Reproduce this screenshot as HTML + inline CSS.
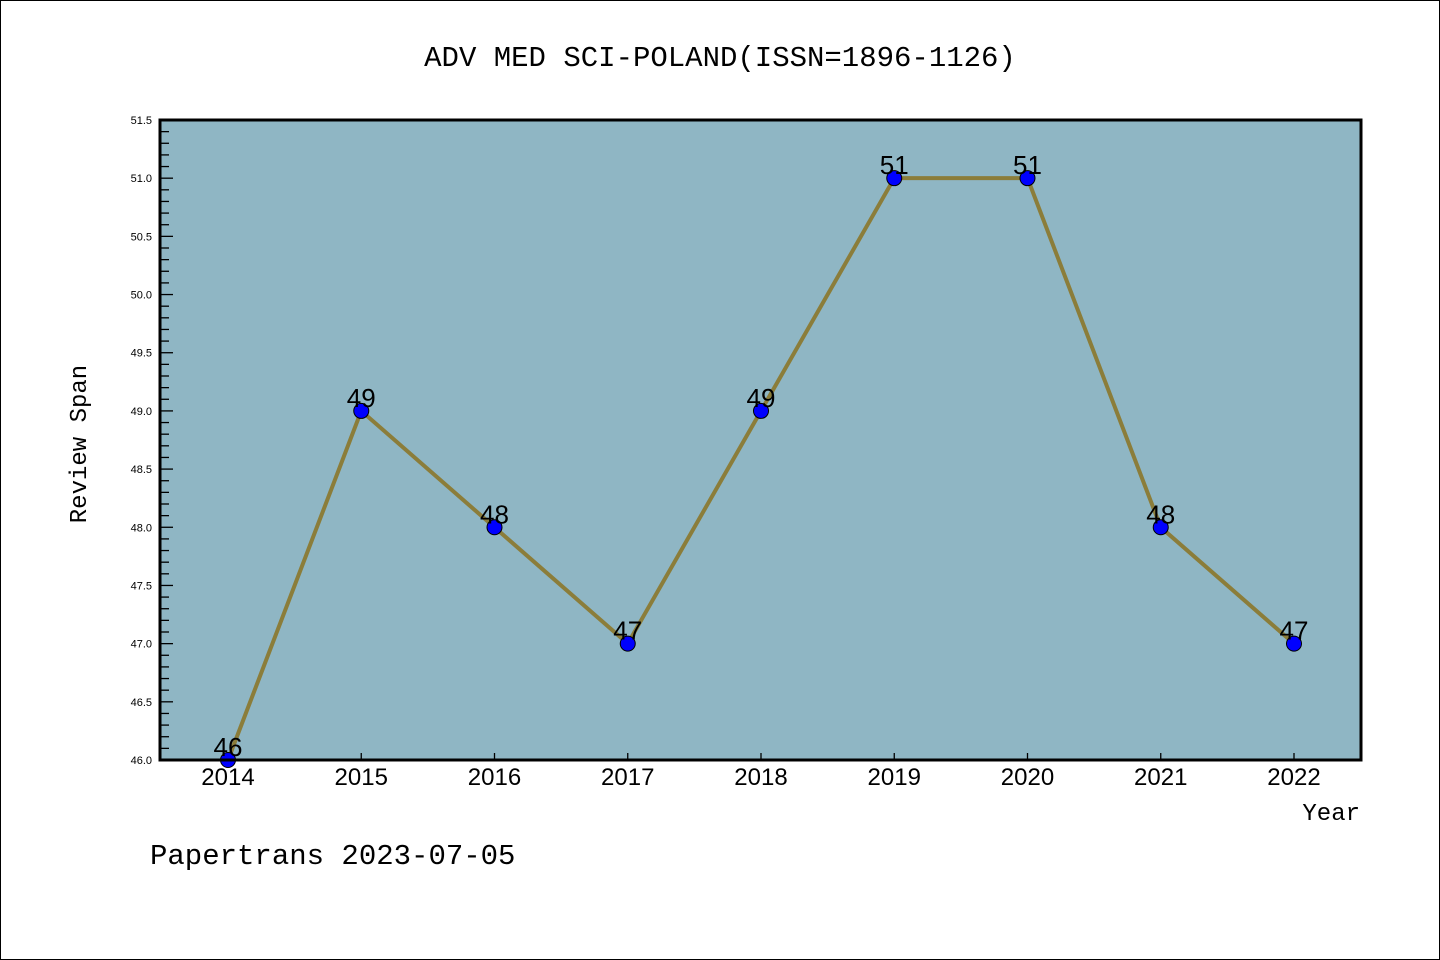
<!DOCTYPE html>
<html><head><meta charset="utf-8"><style>
body{margin:0;background:#fff;}
svg{display:block;font-family:"Liberation Sans","DejaVu Sans",sans-serif;}
.mono{font-family:"Liberation Mono","DejaVu Sans Mono",monospace;}
</style></head><body>
<svg id="chart" width="1440" height="960">
<rect x="0.5" y="0.5" width="1439" height="959" fill="#fff" stroke="#000"/>
<text x="720" y="66" text-anchor="middle" font-size="29" class="mono">ADV MED SCI-POLAND(ISSN=1896-1126)</text>
<rect x="160" y="120" width="1201" height="640" fill="#8fb6c4"/>
<g id="yaxis"></g>
<g id="xaxis"></g>
<g id="series"></g>
<rect x="160" y="120" width="1201" height="640" fill="none" stroke="#000" stroke-width="3"/>
<text x="86" y="444" text-anchor="middle" font-size="24" class="mono" transform="rotate(-90 86 444)">Review Span</text>
<text x="1360" y="820" text-anchor="end" font-size="24" class="mono">Year</text>
<text x="150" y="864" font-size="29" class="mono">Papertrans 2023-07-05</text>
</svg>
<script>
const years = ["2014","2015","2016","2017","2018","2019","2020","2021","2022"];
const values = [46,49,48,47,49,51,51,48,47];
const yTicks = ["46.0","46.5","47.0","47.5","48.0","48.5","49.0","49.5","50.0","50.5","51.0","51.5"];
const NS="http://www.w3.org/2000/svg";
const yMin=46, yMax=51.5, plotTop=120, plotBot=760, plotLeft=160;
function yS(v){return plotBot-(v-yMin)/(yMax-yMin)*(plotBot-plotTop);}
function xS(i){return 228+i*(1294-228)/(years.length-1);}
function mk(tag,attrs,parent){const e=document.createElementNS(NS,tag);for(const k in attrs)e.setAttribute(k,attrs[k]);parent.appendChild(e);return e;}
const ya=document.getElementById('yaxis'), xa=document.getElementById('xaxis'), sr=document.getElementById('series');
for(let k=0;k<=55;k++){
  const v=yMin+k*0.1, y=yS(v), major=k%5===0;
  const t=mk('line',{x1:plotLeft,x2:plotLeft+(major?13:9),y1:y,y2:y,stroke:'#000','stroke-width':1.3},ya);
  
  
}
yTicks.forEach(s=>{
  const t=mk('text',{x:152,y:yS(parseFloat(s))+4,'text-anchor':'end','font-size':11},ya);
  t.textContent=s;
  
  
});
years.forEach((yr,i)=>{
  const l=mk('line',{x1:xS(i),x2:xS(i),y1:plotBot,y2:plotBot-7,stroke:'#000','stroke-width':1.3},xa);
  
  
  const t=mk('text',{x:xS(i),y:785,'text-anchor':'middle','font-size':24},xa);
  t.textContent=yr;
  
  
});
const pl=mk('polyline',{points:values.map((v,i)=>xS(i)+','+yS(v)).join(' '),fill:'none',stroke:'#8b7d3a','stroke-width':4},sr);


values.forEach((v,i)=>{
  const c=mk('circle',{cx:xS(i),cy:yS(v),r:7.5,fill:'#0000ff',stroke:'#000','stroke-width':1},sr);
  
  
  const t=mk('text',{x:xS(i),y:yS(v)-4,'text-anchor':'middle','font-size':26},sr);
  t.textContent=v;
  
  
});
</script>
</body></html>
